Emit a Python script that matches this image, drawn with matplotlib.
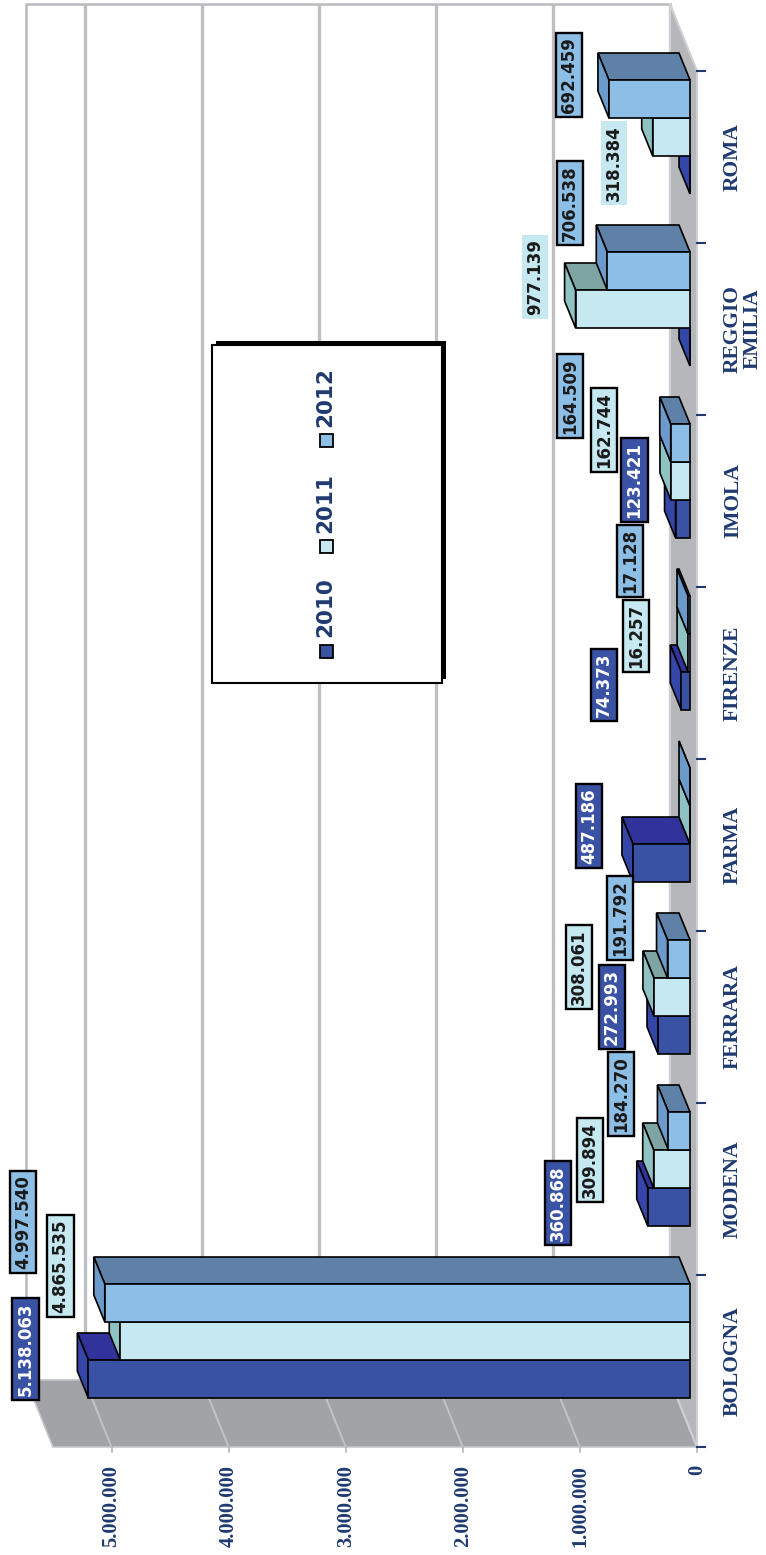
import matplotlib
matplotlib.use("Agg")
import matplotlib.pyplot as plt
from matplotlib.patches import Polygon, Rectangle
from matplotlib.transforms import Affine2D

# =========================================================
# DATA
# =========================================================
CITIES = ['BOLOGNA', 'MODENA', 'FERRARA', 'PARMA', 'FIRENZE', 'IMOLA',
          'REGGIO\nEMILIA', 'ROMA']
YEARS = ['2010', '2011', '2012']
V2010 = [5138063, 360868, 272993, 487186, 74373, 123421, 0, 0]
V2011 = [4865535, 309894, 308061, 0, 16257, 162744, 977139, 318384]
V2012 = [4997540, 184270, 191792, 0, 17128, 164509, 706538, 692459]
TICKS = [0, 1000000, 2000000, 3000000, 4000000, 5000000]
AXIS_MAX = 5500000

SERIES = [V2010, V2011, V2012]

# colori: fronte, lato superiore, testata
FRONT = ['#3a52a3', '#c5e8f1', '#8dbee6']
TOP = ['#31339a', '#7ea5a4', '#5f81a7']
CAP = ['#3446a8', '#8fc2c3', '#6b9acb']
TXT = ['white', '#1a1a1a', '#1a1a1a']
NAVY = '#1f3a70'

# posizione delle etichette (centro, pixel dall'alto a sinistra)
LABEL_XY = {
    (0, 0): (25.5, 1349), (0, 1): (60.5, 1266), (0, 2): (23, 1222),
    (1, 0): (558, 1203), (1, 1): (590, 1160), (1, 2): (621, 1094),
    (2, 0): (612, 1007), (2, 1): (579, 967), (2, 2): (620, 918),
    (3, 0): (589, 826),
    (4, 0): (604, 685), (4, 1): (636, 636), (4, 2): (630, 561),
    (5, 0): (634.5, 480), (5, 1): (604, 430), (5, 2): (570, 396),
    (6, 1): (535, 277), (6, 2): (570, 203),
    (7, 1): (614, 163), (7, 2): (569, 75),
}
NO_BORDER = {(6, 1), (7, 1)}

# =========================================================
# GEOMETRIA (grafico ruotato di 90 gradi)
# =========================================================
W, H = 766, 1555
X0_PX, PXV = 697.0, 117.1e-6      # pixel del valore 0, pixel per unita
Y0_PX, PXU = 1447.0, 172.0        # pixel della base categorie, pixel per categoria


def vx(px):
    return (X0_PX - px) / PXV


def uy(py):
    return (Y0_PX - py) / PXU


DV_BAR, DU_BAR = 11 / PXV, 27 / PXU
DV_WALL, DU_WALL = 27 / PXV, 67 / PXU
V_BASE = 7 / PXV
BAR_OFF, BAR_H = 49 / PXU, 38 / PXU

fig = plt.figure(figsize=(W / 100, H / 100), dpi=100)
ax = fig.add_axes([0, 0, 1, 1])
ax.set_xlim(vx(0), vx(W))
ax.set_ylim(uy(H), uy(0))
ax.axis('off')
pix = Affine2D().scale(1 / W, -1 / H).translate(0, 1) + fig.transFigure

n = len(CITIES)

# parete di fondo
ax.add_patch(Polygon([(DV_WALL, DU_WALL), (DV_WALL + AXIS_MAX, DU_WALL),
                      (DV_WALL + AXIS_MAX, n + DU_WALL), (DV_WALL, n + DU_WALL)],
                     closed=True, fc='white', ec='#b9babe', lw=1.8, zorder=1))
for t in TICKS:
    ax.plot([DV_WALL + t, DV_WALL + t], [DU_WALL, n + DU_WALL],
            color='#bebfc3', lw=2.4, zorder=1.5, solid_capstyle='butt')

# parete laterale (in basso)
ax.add_patch(Polygon([(0, 0), (AXIS_MAX, 0), (AXIS_MAX + DV_WALL, DU_WALL),
                      (DV_WALL, DU_WALL)], closed=True, fc='#a2a3a7',
                     ec='#c6c7cb', lw=1.2, zorder=2))
for t in TICKS:
    ax.plot([t, t + DV_WALL], [0, DU_WALL], color='#c2c3c7', lw=1.4, zorder=2.2)
    ax.plot([t, t], [0, uy(Y0_PX + 5)], color='#b5b6ba', lw=1.2, zorder=2.2)

# pavimento (a destra)
ax.add_patch(Polygon([(0, 0), (0, n), (DV_WALL, n + DU_WALL), (DV_WALL, DU_WALL)],
                     closed=True, fc='#b6b7bb', ec='#cfd0d4', lw=1.5, zorder=2.5))

# tacche dell'asse categorie
for i in range(n + 1):
    ax.plot([0, vx(X0_PX + 8)], [i, i], color=NAVY, lw=1.5, zorder=3)

# barre 3D
z = 4
for i in range(n - 1, -1, -1):
    for s, vals in enumerate(SERIES):
        v = vals[i]
        x0, x1 = V_BASE, V_BASE + v
        y0 = i + BAR_OFF + s * BAR_H
        y1 = y0 + BAR_H
        ax.add_patch(Polygon([(x0, y1), (x1, y1), (x1 + DV_BAR, y1 + DU_BAR),
                              (x0 + DV_BAR, y1 + DU_BAR)], closed=True,
                             fc=TOP[s], ec='black', lw=1.2, zorder=z))
        ax.add_patch(Polygon([(x1, y0), (x1, y1), (x1 + DV_BAR, y1 + DU_BAR),
                              (x1 + DV_BAR, y0 + DU_BAR)], closed=True,
                             fc=CAP[s], ec='black', lw=1.2, zorder=z + 0.1))
        ax.barh(y0 + BAR_H / 2, v, left=x0, height=BAR_H, color=FRONT[s],
                edgecolor='black', linewidth=1.2, zorder=z + 0.2)
        z += 1

# etichette dei valori
for (i, s), (px, py) in LABEL_XY.items():
    v = SERIES[s][i]
    txt = f"{v:,}".replace(',', '.')
    ec = 'none' if (i, s) in NO_BORDER else 'black'
    ax.text(px, py, txt, transform=pix, rotation=90, ha='center', va='center',
            fontsize=12, fontweight='bold', family='DejaVu Sans', color=TXT[s],
            zorder=100,
            bbox=dict(boxstyle='square,pad=0.25', fc=FRONT[s], ec=ec, lw=1.7))

# etichette asse valori
for t in TICKS:
    lab = f"{t:,}".replace(',', '.')
    ax.annotate(lab, xy=(t, 0), xytext=(0, -18), textcoords='offset pixels',
                rotation=90, ha='center', va='top', fontsize=14.8,
                fontweight='bold', family='Liberation Serif', color=NAVY)

# etichette categorie
for i, c in enumerate(CITIES):
    ax.annotate(c, xy=(0, i + 0.5), xytext=(26, 0), textcoords='offset pixels',
                rotation=90, ha='left', va='center', fontsize=15.5,
                fontweight='bold', family='Liberation Serif', color=NAVY,
                multialignment='center', linespacing=0.95)

# legenda
fig.patches.append(Rectangle((216, 341), 230, 338, transform=pix, fc='black',
                             ec='none', zorder=200))
fig.patches.append(Rectangle((212, 345), 230, 338, transform=pix, fc='white',
                             ec='black', lw=1.5, zorder=201))
LEG_MARK_Y = [651.5, 546, 440.5]
LEG_TEXT_Y = [607.5, 503, 397]
for s, yr in enumerate(YEARS):
    fig.patches.append(Rectangle((319.5, LEG_MARK_Y[s] - 6.5), 13, 13,
                                 transform=pix, fc=FRONT[s], ec='black',
                                 lw=1.3, zorder=202))
    fig.text(325, LEG_TEXT_Y[s], yr, transform=pix, rotation=90, ha='center',
             va='center', fontsize=15.5, fontweight='bold', family='DejaVu Sans',
             color=NAVY, zorder=203)

plt.savefig("out.png", dpi=100)
plt.close()
